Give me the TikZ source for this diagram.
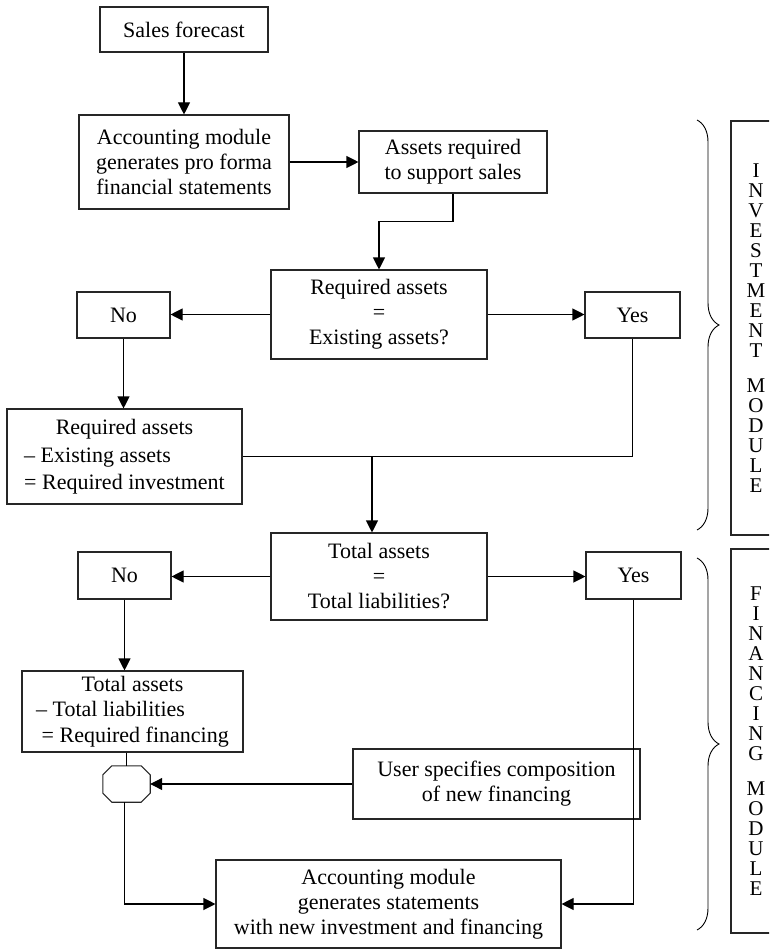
\documentclass[tikz,border=0pt]{standalone}
\usepackage{fontspec}
\setmainfont{Liberation Serif}
\usetikzlibrary{arrows.meta,decorations.pathreplacing}
\begin{document}
\begin{tikzpicture}[x=1pt,y=-1pt,
  box/.style={draw=black!85, line width=1.1pt, inner sep=0pt, align=center, font=\fontsize{22}{25}\selectfont},
  arr/.style={line width=1.1pt, -{Triangle[length=12pt,width=12pt]}},
  ln/.style={line width=1.1pt},
  brc/.style={decorate, decoration={brace, amplitude=22pt}, line width=0.9pt},
  modbox/.style={draw=black!85, line width=1.1pt, inner sep=0pt, align=center, font=\fontsize{21}{20}\selectfont, minimum width=50pt}
]
\useasboundingbox (0,0) rectangle (769,952);

% boxes
\node[box, minimum width=168pt, minimum height=45pt] (sales) at (184,29.5) {Sales forecast};
\node[box, minimum width=210pt, minimum height=94pt] (acc1) at (184,162) {Accounting module\\generates pro forma\\financial statements};
\node[box, minimum width=188pt, minimum height=62pt] (assets) at (453,162) {Assets required\\to support sales};
\node[box, minimum width=216pt, minimum height=89pt] (dec1) at (379,314.5) {Required assets\\=\\Existing assets?};
\node[box, minimum width=95pt, minimum height=46pt] (yes1) at (632.5,315) {Yes};
\node[box, minimum width=93pt, minimum height=46pt] (no1) at (123.5,315) {No};
\node[box, minimum width=235pt, minimum height=95pt] (reqinv) at (124.5,456.5) {\def\arraystretch{1.1}\begin{tabular}{@{}l@{}}\multicolumn{1}{@{}c@{}}{Required assets}\\-- Existing assets\\= Required investment\end{tabular}};
\node[box, minimum width=216pt, minimum height=87pt] (total1) at (379,576.5) {Total assets\\=\\Total liabilities?};
\node[box, minimum width=95pt, minimum height=47pt] (yes2) at (633.5,575.5) {Yes};
\node[box, minimum width=93pt, minimum height=47pt] (no2) at (124.5,575.5) {No};
\node[box, minimum width=221pt, minimum height=81pt] (totfin) at (132.5,711.5) {\def\arraystretch{1.02}\begin{tabular}{@{}l@{}}\multicolumn{1}{@{}c@{}}{Total assets}\\-- Total liabilities\\\ = Required financing\end{tabular}};
\node[minimum width=47pt, minimum height=36pt, inner sep=0pt] (oct) at (126.5,784) {};
\draw[draw=black!85, line width=1.1pt]
  ([xshift=9pt]oct.north west) -- ([xshift=-9pt]oct.north east) -- ([yshift=-9pt]oct.north east)
  -- ([yshift=9pt]oct.south east) -- ([xshift=-9pt]oct.south east) -- ([xshift=9pt]oct.south west)
  -- ([yshift=9pt]oct.south west) -- ([yshift=-9pt]oct.north west) -- cycle;
\node[box, minimum width=287pt, minimum height=70pt] (user) at (496.5,784) {User specifies composition\\of new financing};
\node[box, minimum width=345pt, minimum height=88pt] (final) at (388.5,904) {Accounting module\\generates statements\\with new investment and financing};

% module boxes (cut at the right edge)
\begin{scope}
\clip (0,0) rectangle (769,952);
\node[modbox, minimum height=414pt] (invmod) at (756,328) {I\\N\\V\\E\\S\\T\\M\\E\\N\\T\\[15pt]M\\O\\D\\U\\L\\E};
\node[modbox, minimum height=384pt] (finmod) at (756,741) {F\\I\\N\\A\\N\\C\\I\\N\\G\\[15pt]M\\O\\D\\U\\L\\E};
\end{scope}

% braces
\coordinate (b1t) at (697,120);
\coordinate (b1b) at (697,530);
\coordinate (b2t) at (697,558);
\coordinate (b2b) at (697,930);
\draw[brc] (b1t) -- (b1b);
\draw[brc] (b2t) -- (b2b);

% connectors
\draw[arr] (sales.south) -- (acc1.north);
\draw[arr] (acc1.east) -- (assets.west);
\draw[arr] (assets.south) -- ++(0,28) -| (dec1.north);
\draw[arr] (dec1.east) -- (dec1.east -| yes1.west);
\draw[arr] (dec1.west) -- (dec1.west -| no1.east);
\draw[arr] (no1.south) -- (no1.south |- reqinv.north);
\coordinate (j1) at (372,457);
\draw[ln] (yes1.south) |- (reqinv.east);
\draw[arr] (j1) -- (j1 |- total1.north);
\draw[arr] (total1.east) -- (total1.east -| yes2.west);
\draw[arr] (total1.west) -- (total1.west -| no2.east);
\draw[arr] (no2.south) -- (no2.south |- totfin.north);
\draw[ln] (oct.north |- totfin.south) -- (oct.north);
\draw[arr] (user.west) -- (oct.east);
\draw[arr] ([xshift=-2pt]oct.south) |- (final.west);
\draw[arr] (yes2.south) |- (final.east);
\end{tikzpicture}
\end{document}
